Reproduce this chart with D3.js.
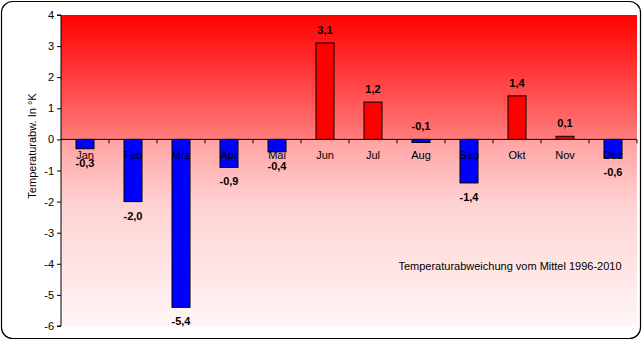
<!DOCTYPE html>
<html><head><meta charset="utf-8">
<script src="https://cdn.jsdelivr.net/npm/d3@7"></script>
<style>body{margin:0;background:#fff}svg{display:block}</style>
</head><body>
<script>
const months = ["Jan","Feb","Mrz","Apr","Mai","Jun","Jul","Aug","Sep","Okt","Nov","Dez"];
const values = [-0.3,-2.0,-5.4,-0.9,-0.4,3.1,1.2,-0.1,-1.4,1.4,0.1,-0.6];
const yTicks = [4,3,2,1,0,-1,-2,-3,-4,-5,-6];
const yTitle = "Temperaturabw. In °K";
const note = "Temperaturabweichung vom Mittel 1996-2010";

const W = 643, H = 341;
const svg = d3.select("body").append("svg").attr("width", W).attr("height", H);
const L = 61, R = 637, T = 15, B = 326;
const x = d3.scaleBand().domain(months).range([L, R]).paddingInner(0.625).paddingOuter(0.3125);
const xb = d3.scaleBand().domain(months).range([L, R]);
const y = d3.scaleLinear().domain([-6, 4]).range([B, T]);

svg.append("rect").attr("x",1.5).attr("y",1.5).attr("width",639).attr("height",337)
  .attr("rx",11).attr("fill","#fff").attr("stroke","#000").attr("stroke-width",1.2);

const defs = svg.append("defs");
const g1 = defs.append("linearGradient").attr("id","gTop").attr("x1",0).attr("x2",0).attr("y1",0).attr("y2",1);
g1.append("stop").attr("offset","0%").attr("stop-color","#ff0000");
g1.append("stop").attr("offset","100%").attr("stop-color","#ff7c7c");
const g2 = defs.append("linearGradient").attr("id","gBot").attr("x1",0).attr("x2",0).attr("y1",0).attr("y2",1);
g2.append("stop").attr("offset","0%").attr("stop-color","#ffa2a2");
g2.append("stop").attr("offset","35%").attr("stop-color","#ffd2d2");
g2.append("stop").attr("offset","100%").attr("stop-color","#fff6f6");

svg.append("rect").attr("x",L).attr("y",y(4)).attr("width",R-L).attr("height",y(0)-y(4)).attr("fill","url(#gTop)");
svg.append("rect").attr("x",L).attr("y",y(0)).attr("width",R-L).attr("height",y(-6)-y(0)).attr("fill","url(#gBot)");

// bars
svg.selectAll("rect.bar").data(values).join("rect").attr("class","bar")
  .attr("x",(d,i)=>x(months[i]))
  .attr("width",x.bandwidth())
  .attr("y",d=>y(Math.max(0,d)))
  .attr("height",d=>Math.abs(y(d)-y(0)))
  .attr("fill",d=>d>=0?"#ff0000":"#0000ff")
  .attr("stroke","#000").attr("stroke-width",1);

// month labels
svg.selectAll("text.m").data(months).join("text").attr("class","m")
  .attr("x",d=>xb(d)+xb.bandwidth()/2).attr("y",y(0)+20)
  .attr("text-anchor","middle").attr("font-family","Liberation Sans, Arial, sans-serif")
  .attr("font-size",11).attr("fill","#000").text(d=>d);

// value labels (tiny values are labelled above the zero line)
const fmt = v => v.toFixed(1).replace(".",",");
svg.selectAll("text.v").data(values).join("text").attr("class","v")
  .attr("x",(d,i)=>xb(months[i])+xb.bandwidth()/2)
  .attr("y",d=> (d>=0 || Math.abs(d)<0.2) ? y(Math.max(d,0))-9 : y(d)+18)
  .attr("text-anchor","middle").attr("font-family","Liberation Sans, Arial, sans-serif")
  .attr("font-size",11).attr("font-weight","bold").attr("fill","#000").text(fmt);

// y axis
const ya = d3.axisLeft(y).tickValues(yTicks).tickSize(4).tickFormat(d=>d);
const gy = svg.append("g").attr("transform",`translate(${L},0)`).call(ya);
gy.select(".domain").attr("stroke","#000").attr("d",`M-4,${y(4)}H0V${y(-6)}H-4`);
gy.selectAll("text").attr("font-family","Liberation Sans, Arial, sans-serif").attr("font-size",11).attr("fill","#000").attr("x",-7);
gy.selectAll("line").attr("stroke","#000");

// zero axis
const xa = d3.axisBottom(xb).tickSize(4).tickFormat("");
const gx = svg.append("g").attr("transform",`translate(0,${y(0)})`).call(xa);
gx.select(".domain").attr("stroke","#000").attr("d",`M${L},0H${R}`);
gx.selectAll(".tick line").attr("stroke","#000").attr("transform",`translate(${xb.bandwidth()/2},0)`);

svg.append("text").attr("transform",`translate(36,146) rotate(-90)`)
  .attr("text-anchor","middle").attr("font-family","Liberation Sans, Arial, sans-serif")
  .attr("font-size",11).attr("fill","#000").text(yTitle);

svg.append("text").attr("x",510).attr("y",270).attr("text-anchor","middle")
  .attr("font-family","Liberation Sans, Arial, sans-serif").attr("font-size",11).attr("fill","#000").text(note);
</script>
</body></html>
